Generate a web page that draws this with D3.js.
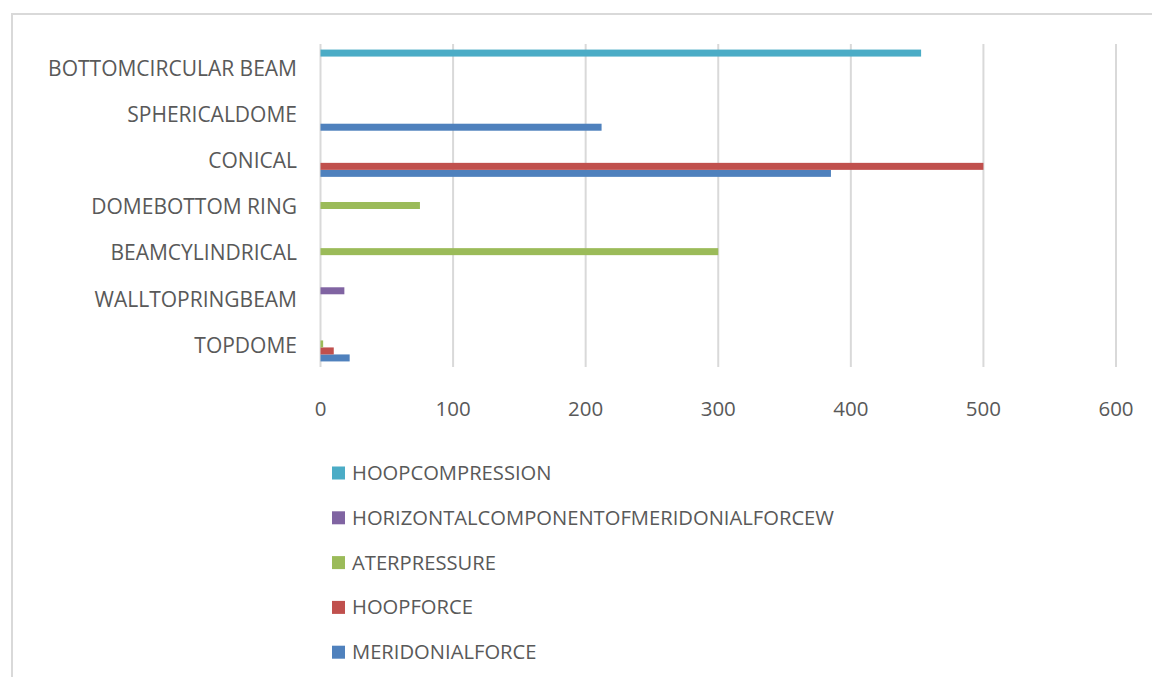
<!DOCTYPE html>
<html>
<head>
<meta charset="utf-8">
<script src="https://cdn.jsdelivr.net/npm/d3@7"></script>
<style>
  body { margin: 0; background: #fff; }
  text { font-family: 'Open Sans', sans-serif; fill: #595959; }
</style>
</head>
<body>
<svg id="chart" width="1152" height="677"></svg>
<script>
// categories, bottom to top as they appear in the chart
var categories = [ 'TOPDOME', 'WALLTOPRINGBEAM', 'BEAMCYLINDRICAL', 'DOMEBOTTOM RING', 'CONICAL', 'SPHERICALDOME', 'BOTTOMCIRCULAR BEAM' ];

var seriesNames = [ 'MERIDONIALFORCE', 'HOOPFORCE', 'ATERPRESSURE', 'HORIZONTALCOMPONENTOFMERIDONIALFORCEW', 'HOOPCOMPRESSION' ];
var seriesColors = [ '#4F81BD', '#C0504D', '#9BBB59', '#8064A2', '#4BACC6' ];

var meridionalForce = [ 22, 0, 0, 0, 385, 212, 0 ];
var hoopForce = [ 10, 0, 0, 0, 500, 0, 0 ];
var aterPressure = [ 2, 0, 300, 75, 0, 0, 0 ];
var horizontalComponent = [ 0, 18, 0, 0, 0, 0, 0 ];
var hoopCompression = [ 0, 0, 0, 0, 0, 0, 453 ];

var xTicks = [ 0, 100, 200, 300, 400, 500, 600 ];

var seriesValues = [ meridionalForce, hoopForce, aterPressure, horizontalComponent, hoopCompression ];

var svg = d3.select( '#chart' ),
  plot = { left: 320.5, right: 1116, top: 44, bottom: 367 };

// chart border
svg.append( 'rect' )
  .attr( 'x', 12 )
  .attr( 'y', 14 )
  .attr( 'width', 1160 )
  .attr( 'height', 700 )
  .style( 'fill', 'none' )
  .style( 'stroke', '#d9d9d9' )
  .style( 'stroke-width', 2 );

var x = d3.scaleLinear()
  .domain( [ 0, 600 ] )
  .range( [ plot.left, plot.right ] );

var y = d3.scaleBand()
  .domain( categories.slice().reverse() )
  .range( [ plot.top, plot.bottom ] );

var groupH = 35;
var ySub = d3.scaleBand()
  .domain( seriesNames.slice().reverse() )
  .range( [ 0, groupH ] );

var z = d3.scaleOrdinal()
  .domain( seriesNames )
  .range( seriesColors );

// gridlines
svg.append( 'g' )
  .attr( 'class', 'grid' )
  .selectAll( 'line' )
  .data( xTicks )
  .enter().append( 'line' )
    .attr( 'x1', d => x( d ) )
    .attr( 'x2', d => x( d ) )
    .attr( 'y1', plot.top )
    .attr( 'y2', plot.bottom )
    .style( 'stroke', '#d9d9d9' )
    .style( 'stroke-width', 2 );

// x tick labels
svg.append( 'g' )
  .selectAll( 'text' )
  .data( xTicks )
  .enter().append( 'text' )
    .attr( 'x', d => x( d ) )
    .attr( 'y', 409 )
    .attr( 'dy', '0.35em' )
    .attr( 'text-anchor', 'middle' )
    .style( 'font-size', '20.5px' )
    .text( d => d );

// category labels
svg.append( 'g' )
  .selectAll( 'text' )
  .data( categories )
  .enter().append( 'text' )
    .attr( 'x', 297 )
    .attr( 'y', d => y( d ) + y.bandwidth() / 2 + 1.5 )
    .attr( 'dy', '0.35em' )
    .attr( 'text-anchor', 'end' )
    .style( 'font-size', '21px' )
    .text( d => d );

// bars
var rows = [];
seriesNames.forEach( ( s, si ) => {
  categories.forEach( ( c, ci ) => {
    rows.push( { series: s, cat: c, value: seriesValues[ si ][ ci ] } );
  } );
} );

var off = ( y.bandwidth() - groupH ) / 2;

svg.append( 'g' )
  .attr( 'class', 'bars' )
  .selectAll( 'rect' )
  .data( rows.filter( d => d.value > 0 ) )
  .enter().append( 'rect' )
    .attr( 'x', x( 0 ) )
    .attr( 'y', d => y( d.cat ) + off + ySub( d.series ) )
    .attr( 'width', d => x( d.value ) - x( 0 ) )
    .attr( 'height', ySub.bandwidth() )
    .style( 'fill', d => z( d.series ) );

// legend, top item is the last series
var legendItems = seriesNames.slice().reverse();

var legend = svg.append( 'g' )
  .attr( 'class', 'legend' )
  .selectAll( 'g' )
  .data( legendItems )
  .enter().append( 'g' )
    .attr( 'transform', ( d, i ) => 'translate(332,' + ( 473 + i * 44.8 ) + ')' );

legend.append( 'rect' )
  .attr( 'x', 0 )
  .attr( 'y', -6.5 )
  .attr( 'width', 13 )
  .attr( 'height', 13 )
  .style( 'fill', d => z( d ) );

legend.append( 'text' )
  .attr( 'x', 20 )
  .attr( 'y', 0 )
  .attr( 'dy', '0.35em' )
  .style( 'font-size', '20.2px' )
  .text( d => d );
</script>
</body>
</html>
